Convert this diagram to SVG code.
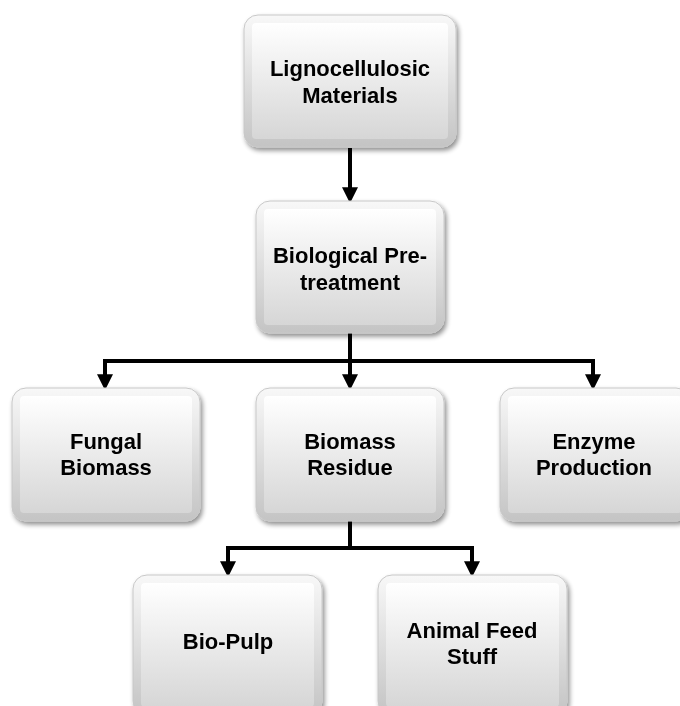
<svg xmlns="http://www.w3.org/2000/svg" width="680" height="706" viewBox="0 0 680 706">
<style>
.lbl{font-family:"Liberation Sans",Arial,sans-serif;font-weight:bold;font-size:22px;fill:#000;text-anchor:middle}
.outer{fill:url(#g1);stroke:#c8c8c8;stroke-width:1}
.inner{fill:url(#g2)}
.conn{fill:none;stroke:#000;stroke-width:4}
</style>
<defs>
<linearGradient id="g1" x1="0" y1="0" x2="0" y2="1">
<stop offset="0" stop-color="#f8f8f8"/>
<stop offset="1" stop-color="#c4c4c4"/>
</linearGradient>
<linearGradient id="g2" x1="0" y1="0" x2="0" y2="1">
<stop offset="0" stop-color="#ffffff"/>
<stop offset="1" stop-color="#d6d6d6"/>
</linearGradient>
<filter id="sh" x="-10%" y="-10%" width="125%" height="125%">
<feGaussianBlur in="SourceAlpha" stdDeviation="2.5"/>
<feOffset dx="2" dy="3"/>
<feComponentTransfer><feFuncA type="linear" slope="0.45"/></feComponentTransfer>
<feMerge><feMergeNode/><feMergeNode in="SourceGraphic"/></feMerge>
</filter>
<marker id="ah" markerWidth="4" markerHeight="4" refX="2.2" refY="2" orient="auto" markerUnits="strokeWidth">
<path d="M0,0 L4,2 L0,4 z" fill="#000"/>
</marker>
</defs>
<g id="connectors">
<path class="conn" d="M350,148 V196" marker-end="url(#ah)"/>
<path class="conn" d="M350,333 V361"/>
<path class="conn" d="M105,361 H593"/>
<path class="conn" d="M105,359 V383" marker-end="url(#ah)"/>
<path class="conn" d="M350,361 V383" marker-end="url(#ah)"/>
<path class="conn" d="M593,359 V383" marker-end="url(#ah)"/>
<path class="conn" d="M350,521 V548"/>
<path class="conn" d="M228,548 H472"/>
<path class="conn" d="M228,546 V570" marker-end="url(#ah)"/>
<path class="conn" d="M472,546 V570" marker-end="url(#ah)"/>
</g>
<g id="n1" filter="url(#sh)">
<rect class="outer" x="244" y="15" width="212" height="132" rx="14"/>
<rect class="inner" x="252" y="23" width="196" height="116" rx="4"/>
<text class="lbl" x="350" y="76">Lignocellulosic</text>
<text class="lbl" x="350" y="103">Materials</text>
</g>
<g id="n2" filter="url(#sh)">
<rect class="outer" x="256" y="201" width="188" height="132" rx="14"/>
<rect class="inner" x="264" y="209" width="172" height="116" rx="4"/>
<text class="lbl" x="350" y="263">Biological Pre-</text>
<text class="lbl" x="350" y="290">treatment</text>
</g>
<g id="n3" filter="url(#sh)">
<rect class="outer" x="12" y="388" width="188" height="133" rx="14"/>
<rect class="inner" x="20" y="396" width="172" height="117" rx="4"/>
<text class="lbl" x="106" y="449">Fungal</text>
<text class="lbl" x="106" y="475">Biomass</text>
</g>
<g id="n4" filter="url(#sh)">
<rect class="outer" x="256" y="388" width="188" height="133" rx="14"/>
<rect class="inner" x="264" y="396" width="172" height="117" rx="4"/>
<text class="lbl" x="350" y="449">Biomass</text>
<text class="lbl" x="350" y="475">Residue</text>
</g>
<g id="n5" filter="url(#sh)">
<rect class="outer" x="500" y="388" width="190" height="133" rx="14"/>
<rect class="inner" x="508" y="396" width="174" height="117" rx="4"/>
<text class="lbl" x="594" y="449">Enzyme</text>
<text class="lbl" x="594" y="475">Production</text>
</g>
<g id="n6" filter="url(#sh)">
<rect class="outer" x="133" y="575" width="189" height="140" rx="14"/>
<rect class="inner" x="141" y="583" width="173" height="124" rx="4"/>
<text class="lbl" x="228" y="649">Bio-Pulp</text>
</g>
<g id="n7" filter="url(#sh)">
<rect class="outer" x="378" y="575" width="189" height="140" rx="14"/>
<rect class="inner" x="386" y="583" width="173" height="124" rx="4"/>
<text class="lbl" x="472" y="638">Animal Feed</text>
<text class="lbl" x="472" y="664">Stuff</text>
</g>
</svg>
